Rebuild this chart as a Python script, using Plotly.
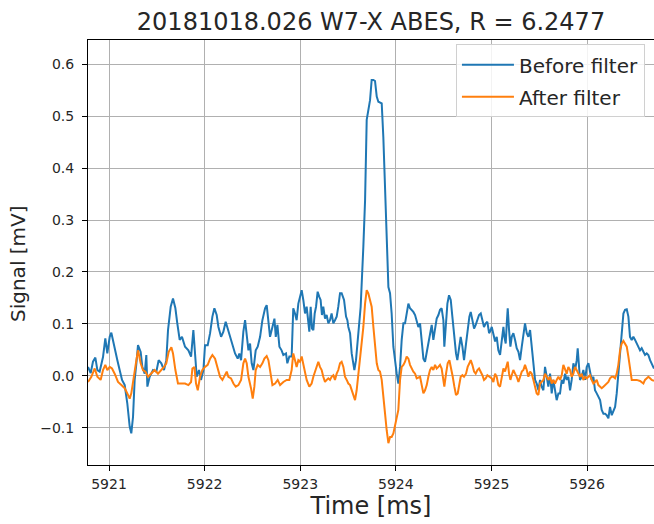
import plotly.graph_objects as go

# ---- data (time in ms, signal in mV) ----
t_before = [
    5920.780, 5920.808, 5920.832, 5920.857, 5920.878, 5920.902, 5920.937, 5920.961, 5920.982, 5921.007,
    5921.024, 5921.052, 5921.087, 5921.111, 5921.136, 5921.164, 5921.191, 5921.216, 5921.233, 5921.251,
    5921.268, 5921.286, 5921.303, 5921.331, 5921.348, 5921.373, 5921.390, 5921.401, 5921.425, 5921.460,
    5921.495, 5921.519, 5921.547, 5921.575, 5921.599, 5921.617, 5921.645, 5921.669, 5921.694, 5921.714,
    5921.739, 5921.763,
    5921.795, 5921.830, 5921.858, 5921.882, 5921.900, 5921.917, 5921.941, 5921.962, 5921.987, 5922.004,
    5922.032, 5922.057, 5922.081, 5922.102, 5922.126, 5922.144, 5922.172, 5922.196, 5922.220, 5922.241,
    5922.266, 5922.290, 5922.318, 5922.346, 5922.363, 5922.381, 5922.405, 5922.423, 5922.440, 5922.458,
    5922.475, 5922.492, 5922.510, 5922.534, 5922.555, 5922.580, 5922.604, 5922.632, 5922.649, 5922.667,
    5922.684, 5922.709, 5922.730, 5922.744, 5922.761, 5922.782,
    5922.805, 5922.823, 5922.851, 5922.865, 5922.886, 5922.910, 5922.927, 5922.945, 5922.962, 5922.980,
    5922.997, 5923.015, 5923.032, 5923.050, 5923.067, 5923.084, 5923.095, 5923.109, 5923.123, 5923.137,
    5923.151, 5923.165, 5923.182, 5923.199, 5923.213, 5923.227, 5923.241, 5923.259, 5923.276, 5923.294,
    5923.311, 5923.328, 5923.346, 5923.363, 5923.381, 5923.398, 5923.416,
    5923.433, 5923.458, 5923.479, 5923.493, 5923.503, 5923.521, 5923.538, 5923.555, 5923.566, 5923.583,
    5923.608, 5923.632, 5923.660, 5923.678, 5923.695, 5923.712, 5923.730, 5923.747, 5923.765, 5923.782,
    5923.800, 5923.817, 5923.834, 5923.852, 5923.869, 5923.887, 5923.904, 5923.922, 5923.939, 5923.956,
    5923.974, 5923.991, 5924.009, 5924.026, 5924.044, 5924.061, 5924.079, 5924.096, 5924.113, 5924.131,
    5924.148, 5924.166, 5924.183, 5924.201, 5924.218, 5924.235, 5924.253,
    5924.270, 5924.288, 5924.305, 5924.323, 5924.340, 5924.357, 5924.375, 5924.392, 5924.410, 5924.427,
    5924.445, 5924.462, 5924.479, 5924.497, 5924.507, 5924.525, 5924.539, 5924.556, 5924.574, 5924.591,
    5924.609, 5924.629, 5924.643, 5924.661, 5924.678, 5924.696, 5924.713, 5924.734, 5924.751, 5924.769,
    5924.783, 5924.800, 5924.818, 5924.835, 5924.853, 5924.870, 5924.888, 5924.905, 5924.922, 5924.940,
    5924.957, 5924.975,
    5924.985, 5925.003, 5925.020, 5925.038, 5925.055, 5925.072, 5925.090, 5925.107, 5925.125, 5925.135,
    5925.149, 5925.160, 5925.170, 5925.184, 5925.198, 5925.212, 5925.229, 5925.247, 5925.264, 5925.282,
    5925.299, 5925.317, 5925.334, 5925.351, 5925.369, 5925.386, 5925.404, 5925.421, 5925.439, 5925.456,
    5925.473, 5925.491,
    5925.508, 5925.525, 5925.543, 5925.560, 5925.578, 5925.595, 5925.613, 5925.630, 5925.647, 5925.665,
    5925.682, 5925.700, 5925.717, 5925.735, 5925.752, 5925.770, 5925.787, 5925.804, 5925.822, 5925.839,
    5925.857, 5925.874, 5925.892, 5925.902, 5925.916, 5925.926, 5925.944, 5925.961, 5925.979, 5925.996,
    5926.014, 5926.031, 5926.048, 5926.066, 5926.083, 5926.101, 5926.118, 5926.136, 5926.153, 5926.171,
    5926.188, 5926.205, 5926.223, 5926.240, 5926.258, 5926.275, 5926.293, 5926.310, 5926.327, 5926.345,
    5926.362, 5926.380, 5926.397, 5926.415, 5926.432, 5926.449, 5926.467, 5926.484, 5926.502, 5926.519,
    5926.537, 5926.554, 5926.571, 5926.589, 5926.606, 5926.624, 5926.641, 5926.659, 5926.676, 5926.700,
]
v_before = [
    0.017, 0.005, 0.027, 0.035, 0.011, 0.008, 0.036, 0.072, 0.043, 0.075,
    0.083, 0.056, 0.030, 0.011, -0.008, -0.018, -0.053, -0.098, -0.111, -0.079,
    -0.008, 0.024, 0.059, 0.046, 0.017, 0.004, 0.040, -0.021, -0.002, 0.011,
    0.008, 0.030, 0.024, 0.011, 0.030, 0.088, 0.133, 0.149, 0.130, 0.101,
    0.069, 0.075,
    0.056, 0.049, 0.037, 0.088, 0.037, -0.002, 0.011, -0.008, 0.011, 0.059,
    0.059, 0.082, 0.114, 0.130, 0.117, 0.094, 0.075, 0.085, 0.104, 0.091,
    0.075, 0.056, 0.043, 0.033, 0.043, 0.030, 0.085, 0.107, 0.082, 0.049,
    0.062, 0.024, 0.011, 0.049, 0.056, 0.075, 0.107, 0.130, 0.136, 0.101,
    0.075, 0.094, 0.110, 0.075, 0.098, 0.056,
    0.049, 0.040, 0.043, 0.024, 0.037, 0.037, 0.130, 0.120, 0.107, 0.139,
    0.152, 0.165, 0.146, 0.120, 0.133, 0.101, 0.085, 0.133, 0.091, 0.088,
    0.120, 0.133, 0.162, 0.152, 0.146, 0.117, 0.133, 0.110, 0.117, 0.101,
    0.107, 0.120, 0.101, 0.107, 0.114, 0.133, 0.159,
    0.159, 0.146, 0.114, 0.107, 0.094, 0.082, 0.043, 0.024, 0.011, 0.030,
    0.082, 0.133, 0.249, 0.338, 0.493, 0.512, 0.531, 0.570, 0.570, 0.568,
    0.538, 0.528, 0.526, 0.525, 0.460, 0.351, 0.261, 0.171, 0.159, 0.120,
    0.056, 0.024, 0.004, -0.015, 0.017, 0.069, 0.101, 0.101, 0.120, 0.139,
    0.130, 0.127, 0.123, 0.117, 0.107, 0.094, 0.101,
    0.066, 0.033, 0.027, 0.046, 0.056, 0.082, 0.098, 0.069, 0.088, 0.110,
    0.117, 0.127, 0.130, 0.107, 0.056, 0.107, 0.139, 0.155, 0.146, 0.114,
    0.075, 0.043, 0.030, 0.056, 0.075, 0.056, 0.030, 0.062, 0.094, 0.114,
    0.123, 0.107, 0.091, 0.098, 0.110, 0.117, 0.120, 0.107, 0.094, 0.101,
    0.104, 0.082,
    0.085, 0.094, 0.082, 0.066, 0.075, 0.049, 0.040, 0.069, 0.094, 0.075,
    0.062, 0.101, 0.130, 0.088, 0.056, 0.075, 0.082, 0.069, 0.053, 0.046,
    0.030, 0.056, 0.082, 0.101, 0.082, 0.075, 0.088, 0.056, 0.030, -0.008,
    -0.015, -0.028,
    -0.008, -0.021, -0.028, 0.017, -0.002, -0.021, 0.004, -0.034, -0.008, -0.028,
    -0.047, -0.034, -0.034, -0.008, -0.015, 0.004, -0.008, -0.002, -0.028, -0.008,
    0.024, 0.011, 0.030, 0.053, 0.024, -0.008, -0.002, 0.011, -0.008, 0.017,
    0.024, 0.011, -0.008, -0.002, -0.028, -0.034, -0.040, -0.047, -0.066, -0.073,
    -0.073, -0.076, -0.082, -0.060, -0.076, -0.066, -0.060, -0.034, 0.004, 0.056,
    0.094, 0.120, 0.127, 0.128, 0.114, 0.075, 0.069, 0.075, 0.069, 0.062,
    0.056, 0.049, 0.053, 0.046, 0.040, 0.043, 0.040, 0.030, 0.024, 0.014,
]

t_after = [
    5920.780, 5920.815, 5920.850, 5920.878, 5920.912, 5920.937, 5920.961, 5920.982, 5921.007, 5921.031,
    5921.059, 5921.094, 5921.129, 5921.164, 5921.191, 5921.216, 5921.233, 5921.261, 5921.286, 5921.303,
    5921.331, 5921.355, 5921.380, 5921.408, 5921.442, 5921.477, 5921.512, 5921.547, 5921.575, 5921.599,
    5921.624, 5921.652, 5921.669, 5921.694, 5921.721, 5921.756,
    5921.795, 5921.830, 5921.858, 5921.872, 5921.893, 5921.910, 5921.928, 5921.952, 5921.976, 5922.004,
    5922.032, 5922.057, 5922.081, 5922.109, 5922.137, 5922.161, 5922.186, 5922.213, 5922.231, 5922.248,
    5922.276, 5922.301, 5922.325, 5922.353, 5922.381, 5922.405, 5922.423, 5922.440, 5922.458, 5922.485,
    5922.503, 5922.520, 5922.534, 5922.555, 5922.580, 5922.604, 5922.625, 5922.649, 5922.667, 5922.684,
    5922.709, 5922.737, 5922.764, 5922.789,
    5922.823, 5922.858, 5922.886, 5922.910, 5922.927, 5922.945, 5922.962, 5922.980, 5922.997, 5923.015,
    5923.032, 5923.050, 5923.067, 5923.095, 5923.119, 5923.137, 5923.165, 5923.189, 5923.206, 5923.224,
    5923.241, 5923.259, 5923.276, 5923.294, 5923.311, 5923.328, 5923.346, 5923.363, 5923.381, 5923.398,
    5923.416,
    5923.433, 5923.451, 5923.468, 5923.486, 5923.503, 5923.521, 5923.538, 5923.555, 5923.573, 5923.590,
    5923.608, 5923.625, 5923.643, 5923.660, 5923.678, 5923.695, 5923.712, 5923.730, 5923.747, 5923.765,
    5923.782, 5923.800, 5923.817, 5923.834, 5923.852, 5923.869, 5923.887, 5923.904, 5923.922, 5923.939,
    5923.956, 5923.974, 5923.991, 5924.009, 5924.026, 5924.044, 5924.061, 5924.079, 5924.096, 5924.113,
    5924.131, 5924.148, 5924.166, 5924.183, 5924.201, 5924.218, 5924.253,
    5924.270, 5924.288, 5924.305, 5924.323, 5924.340, 5924.357, 5924.375, 5924.392, 5924.410, 5924.427,
    5924.445, 5924.462, 5924.479, 5924.497, 5924.507, 5924.525, 5924.542, 5924.560, 5924.577, 5924.595,
    5924.612, 5924.629, 5924.647, 5924.664, 5924.678, 5924.696, 5924.713, 5924.734, 5924.751, 5924.769,
    5924.783, 5924.800, 5924.818, 5924.835, 5924.853, 5924.870, 5924.888, 5924.905, 5924.922, 5924.940,
    5924.957, 5924.975,
    5924.985, 5925.003, 5925.020, 5925.038, 5925.055, 5925.072, 5925.090, 5925.107, 5925.125, 5925.142,
    5925.160, 5925.170, 5925.184, 5925.198, 5925.212, 5925.229, 5925.247, 5925.264, 5925.282, 5925.299,
    5925.317, 5925.334, 5925.351, 5925.369, 5925.386, 5925.404, 5925.421, 5925.439, 5925.456, 5925.473,
    5925.491,
    5925.508, 5925.543, 5925.560, 5925.578, 5925.595, 5925.613, 5925.630, 5925.647, 5925.665, 5925.682,
    5925.700, 5925.717, 5925.735, 5925.752, 5925.770, 5925.787, 5925.804, 5925.822, 5925.839, 5925.857,
    5925.874, 5925.892, 5925.909, 5925.926, 5925.944, 5925.961, 5925.979, 5925.996, 5926.014, 5926.031,
    5926.048, 5926.066, 5926.083, 5926.101, 5926.118, 5926.136, 5926.153, 5926.171, 5926.188, 5926.205,
    5926.223, 5926.240, 5926.258, 5926.275, 5926.293, 5926.310, 5926.327, 5926.345, 5926.362, 5926.380,
    5926.397, 5926.415, 5926.432, 5926.449, 5926.467, 5926.484, 5926.519, 5926.554, 5926.589, 5926.606,
    5926.624, 5926.641, 5926.659, 5926.676, 5926.700,
]
v_after = [
    -0.012, -0.002, 0.014, -0.002, -0.008, 0.011, 0.021, 0.011, 0.017, 0.014,
    0.004, -0.012, -0.018, -0.024, -0.034, -0.044, -0.034, 0.004, 0.030, 0.049,
    0.024, 0.011, 0.008, -0.002, 0.004, 0.011, 0.004, 0.011, 0.017, 0.024,
    0.046, 0.055, 0.043, 0.011, -0.015, -0.015,
    -0.015, -0.018, -0.012, 0.014, 0.017, -0.015, -0.028, -0.002, 0.011, 0.017,
    0.021, 0.033, 0.040, 0.033, 0.011, -0.002, -0.008, 0.001, 0.008, -0.002,
    -0.005, -0.015, -0.021, -0.018, -0.008, 0.024, 0.033, 0.024, -0.002, -0.024,
    -0.044, -0.021, 0.011, 0.021, 0.017, 0.024, 0.033, 0.038, 0.030, 0.011,
    -0.018, -0.015, -0.008, -0.018,
    -0.012, -0.008, -0.008, 0.011, 0.043, 0.030, 0.017, 0.030, 0.027, 0.037,
    0.021, 0.004, -0.008, -0.021, -0.015, -0.002, 0.014, 0.027, 0.017, 0.011,
    -0.002, -0.012, -0.008, -0.005, -0.008, -0.002, 0.001, -0.008, 0.004, 0.011,
    0.024,
    0.027, 0.017, -0.002, -0.008, -0.015, -0.018, -0.028, -0.037, -0.047, -0.028,
    0.004, 0.030, 0.062, 0.094, 0.139, 0.165, 0.159, 0.146, 0.133, 0.094,
    0.056, 0.024, 0.011, 0.008, -0.008, -0.034, -0.073, -0.105, -0.130, -0.118,
    -0.118, -0.111, -0.098, -0.085, -0.066, -0.008, 0.017, 0.021, 0.027, 0.037,
    0.033, 0.021, 0.014, 0.008, 0.004, -0.005, -0.002,
    -0.015, -0.034, -0.028, -0.018, -0.002, 0.011, 0.017, 0.011, 0.021, 0.014,
    0.017, 0.021, 0.014, -0.008, -0.021, 0.004, 0.024, 0.030, 0.017, -0.002,
    -0.021, -0.037, -0.034, -0.015, -0.002, 0.001, -0.002, 0.004, 0.017, 0.024,
    0.030, 0.021, 0.008, 0.004, 0.011, 0.014, 0.008, 0.001, -0.008, -0.005,
    0.001, -0.002,
    -0.002, -0.005, -0.012, 0.004, -0.002, -0.018, -0.021, -0.002, 0.014, 0.008,
    0.024, 0.027, 0.004, -0.008, 0.001, 0.011, 0.004, -0.002, -0.012, -0.002,
    0.008, 0.011, 0.021, 0.011, -0.002, 0.008, 0.004, -0.008, -0.024, -0.034,
    -0.037,
    -0.015, -0.008, 0.004, -0.002, -0.008, -0.002, -0.015, -0.008, -0.015, -0.008,
    -0.002, -0.008, 0.001, 0.021, 0.014, 0.004, 0.017, 0.011, -0.002, 0.004,
    0.017, 0.011, 0.004, -0.002, 0.004, -0.008, -0.002, -0.005, -0.002, 0.001,
    -0.008, -0.015, -0.012, -0.008, -0.018, -0.021, -0.024, -0.021, -0.018, -0.015,
    -0.012, -0.005, -0.002, -0.002, -0.005, 0.004, 0.021, 0.049, 0.062, 0.067,
    0.062, 0.056, 0.037, 0.011, -0.008, -0.008, -0.008, -0.010, -0.015, -0.008,
    -0.005, -0.002, -0.005, -0.008, -0.010,
]

series_names = ["Before filter", "After filter"]
x_ticks = [5921, 5922, 5923, 5924, 5925, 5926]
y_ticks = [-0.1, 0.0, 0.1, 0.2, 0.3, 0.4, 0.5, 0.6]
title_text = "20181018.026 W7-X ABES, R = 6.2477"

FONT = "DejaVu Sans"
TXT = "#262626"
fig = go.Figure()
fig.add_trace(go.Scatter(x=t_before, y=v_before, mode="lines", name=series_names[0],
                         legendgroup="a", line=dict(color="#1f77b4", width=2)))
fig.add_trace(go.Scatter(x=t_after, y=v_after, mode="lines", name=series_names[1],
                         legendgroup="b", line=dict(color="#ff7f0e", width=2)))

axis_common = dict(showgrid=True, gridcolor="#b0b0b0", gridwidth=1,
                   showline=True, linecolor="black", linewidth=1, mirror=True,
                   ticks="outside", ticklen=5, tickcolor="black", zeroline=False,
                   tickfont=dict(family=FONT, size=14, color=TXT))

fig.update_layout(
    width=654, height=524,
    margin=dict(l=88, r=0, t=40, b=59),
    paper_bgcolor="white", plot_bgcolor="white",
    font=dict(family=FONT, color=TXT),
    title=dict(text=title_text, x=(88 + 654) / 2 / 654, xanchor="center",
               y=1 - 22 / 524, yanchor="middle", yref="container",
               font=dict(family=FONT, size=24, color=TXT)),
    xaxis=dict(range=[5920.78, 5926.70], tickvals=x_ticks, ticktext=[str(v) for v in x_ticks],
               title=dict(text="Time [ms]", font=dict(family=FONT, size=24), standoff=5),
               ticklabelstandoff=1,
               **axis_common),
    yaxis=dict(range=[-0.172, 0.647], tickvals=y_ticks, tickformat=".1f",
               ticklabelstandoff=5,
               **axis_common),
    annotations=[dict(text="Signal [mV]", textangle=-90, xref="paper", yref="paper",
                      x=(18 - 88) / 566, y=(465 - 264) / 425, xanchor="center", yanchor="middle",
                      showarrow=False, font=dict(family=FONT, size=20, color=TXT))],
    legend=dict(x=0.984, xanchor="right", y=0.99, yanchor="top",
                bgcolor="rgba(255,255,255,0.85)", bordercolor="#d0d0d0", borderwidth=1,
                itemwidth=52, tracegroupgap=3, traceorder="grouped",
                font=dict(family=FONT, size=20, color=TXT)),
    showlegend=True,
)

fig.write_html("out.html")
